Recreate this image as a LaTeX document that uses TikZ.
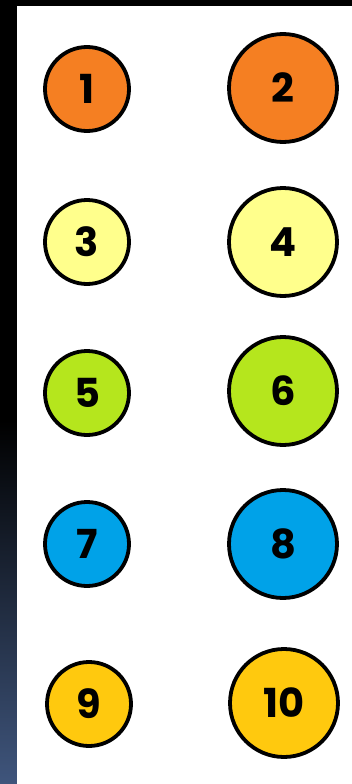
\documentclass[tikz,border=0pt]{standalone}
\usepackage{fontspec}
\setmainfont{Poppins}[BoldFont={* Bold}]
\usetikzlibrary{positioning}
\definecolor{BallOrange}{HTML}{F57F22}
\definecolor{BallCream}{HTML}{FFFF8C}
\definecolor{BallLime}{HTML}{B5E61D}
\definecolor{BallBlue}{HTML}{00A2E8}
\definecolor{BallGold}{HTML}{FFC90E}
\definecolor{EdgeBlue}{HTML}{3F557C}
\tikzset{
  ball/.style={circle, draw=black, line width=3.8pt, inner sep=0pt,
               font=\fontsize{40}{42}\selectfont\bfseries},
  smallball/.style={ball, minimum size=84pt},
  bigball/.style={ball, minimum size=108pt}
}

\begin{document}
\begin{tikzpicture}[x=1pt, y=1pt]
  \useasboundingbox (0,0) rectangle (352,-784);
  % backdrop
  \fill[black] (0,0) rectangle (352,-6);
  \fill[black] (0,0) rectangle (17,-420);
  \shade[top color=black, bottom color=EdgeBlue] (0,-420) rectangle (17,-784);
  \fill[white] (17,-6) rectangle (352,-784);

  % small balls
  \node[smallball, fill=BallOrange] (b1) at (87,-89) {1};
  \node[smallball, fill=BallCream] (b3) at (87,-242) {3};
  \node[smallball, fill=BallLime] (b5) at (87,-393) {5};
  \node[smallball, fill=BallBlue] (b7) at (87,-544) {7};
  \node[smallball, fill=BallGold] (b9) at (89,-704) {9};

  % big balls
  \node[bigball, fill=BallOrange] (b2) at (283,-88) {2};
  \node[bigball, fill=BallCream] (b4) at (283,-242) {4};
  \node[bigball, fill=BallLime] (b6) at (283,-391) {6};
  \node[bigball, fill=BallBlue] (b8) at (283,-544) {8};
  \node[bigball, fill=BallGold] (b10) at (284,-703) {10};
\end{tikzpicture}
\end{document}
